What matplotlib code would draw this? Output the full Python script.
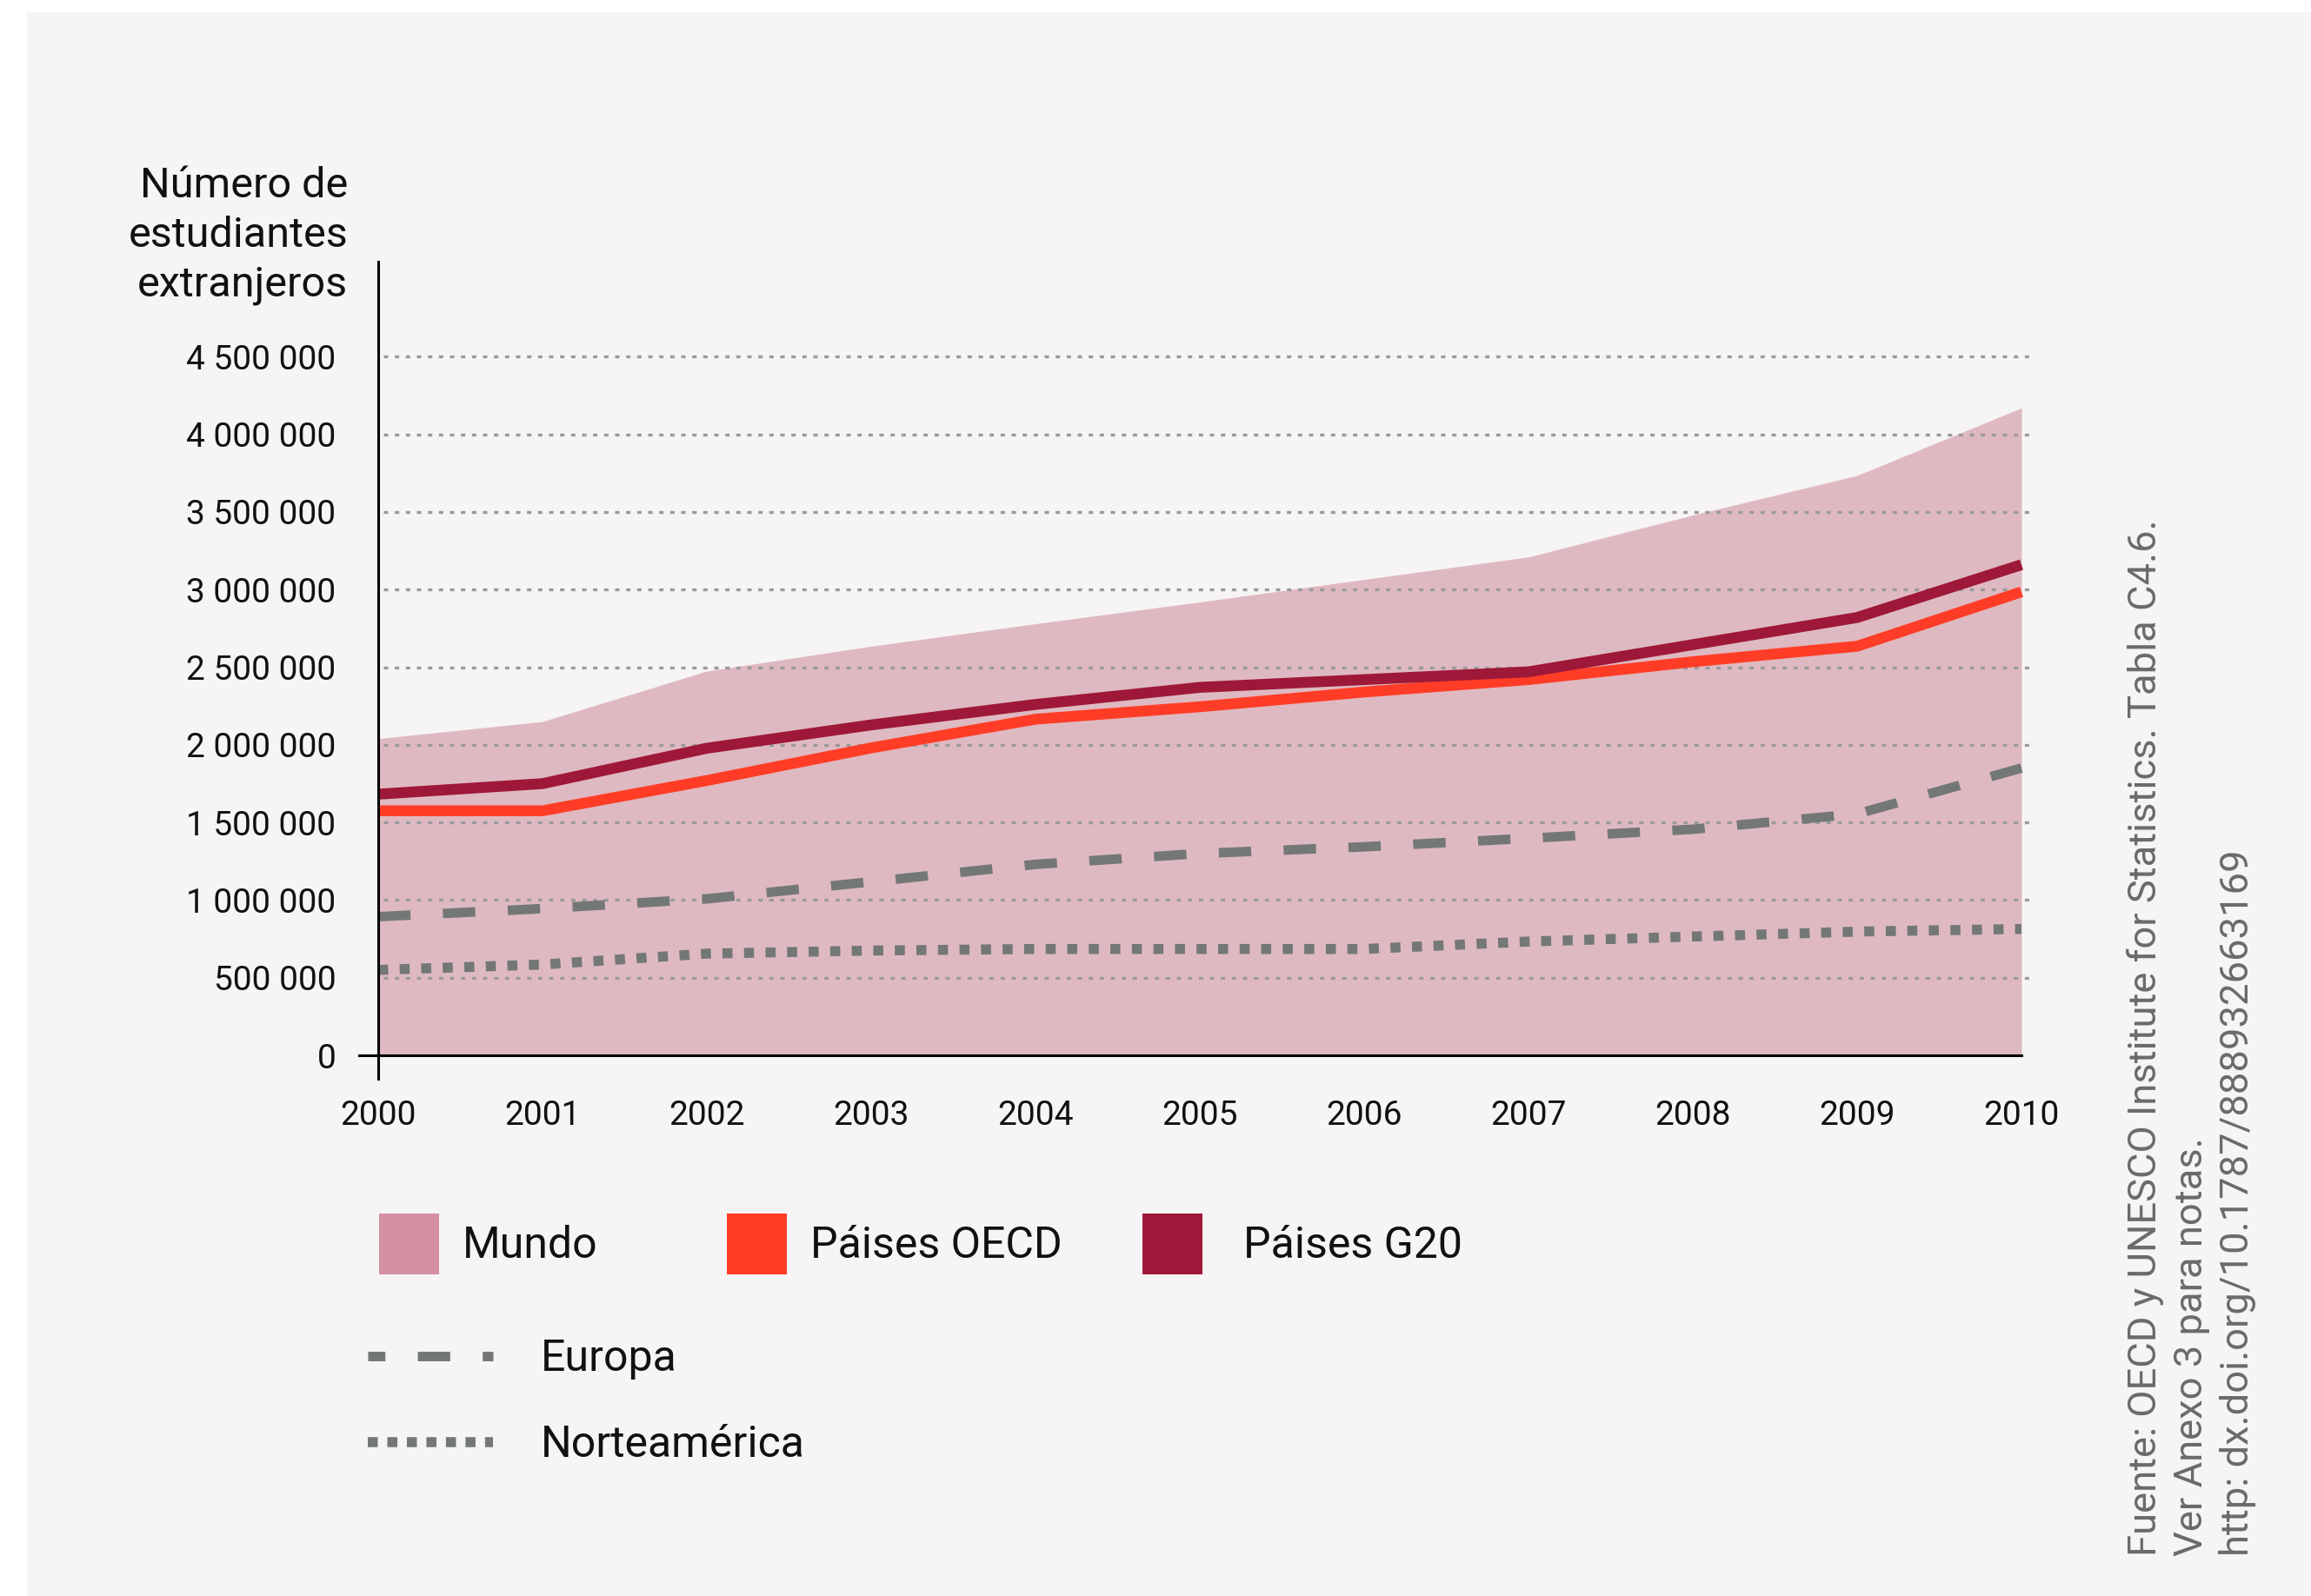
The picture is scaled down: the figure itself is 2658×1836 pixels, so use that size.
import matplotlib
matplotlib.use('Agg')
import matplotlib.pyplot as plt
from matplotlib.patches import Patch, Rectangle
from matplotlib.lines import Line2D

# Datos (número de estudiantes extranjeros)
years = [2000, 2001, 2002, 2003, 2004, 2005, 2006, 2007, 2008, 2009, 2010]
mundo = [2040000, 2150000, 2475000, 2635000, 2780000, 2920000, 3065000, 3210000, 3480000, 3735000, 4170000]
oecd = [1575000, 1575000, 1770000, 1980000, 2165000, 2245000, 2340000, 2420000, 2535000, 2635000, 2985000]
g20 = [1682000, 1750000, 1978000, 2128000, 2260000, 2370000, 2420000, 2470000, 2645000, 2820000, 3160000]
europa = [893000, 945000, 1008000, 1118000, 1230000, 1300000, 1343000, 1398000, 1456000, 1555000, 1850000]
norteamerica = [550000, 585000, 655000, 675000, 685000, 685000, 685000, 733000, 765000, 797000, 814000]

y_ticks = [0, 500000, 1000000, 1500000, 2000000, 2500000, 3000000, 3500000, 4000000, 4500000]
y_title = 'Número de\nestudiantes\nextranjeros'
source = ('Fuente: OECD y UNESCO Institute for Statistics. Tabla C4.6.\n'
          'Ver Anexo 3 para notas.\n'
          'http: dx.doi.org/10.1787/888932663169')

# Colores
BG = '#f6f4f5'
C_MUNDO = '#dfb9c1'
C_MUNDO_KEY = '#d48fa1'
C_OECD = '#ff3d27'
C_G20 = '#9e1839'
C_GRAY = '#737877'
C_GRID = '#9a9a9a'

plt.rcParams['font.family'] = ['Roboto', 'DejaVu Sans']

W, H = 2658, 1836
fig = plt.figure(figsize=(W / 100, H / 100), dpi=100)
fig.patch.set_facecolor('white')
fig.add_artist(Rectangle((31 / W, 0), 1 - 31 / W, 1 - 14 / H, transform=fig.transFigure,
                         facecolor=BG, edgecolor='none', zorder=-10))

ax = fig.add_axes([413 / W, 1 - 1241 / H, (2335 - 413) / W, (1241 - 301) / H])
ax.set_facecolor('none')
ax.set_xlim(1999.884, 2010.053)
ax.set_ylim(-151000, 5112000)

# Área Mundo
ax.fill_between(years, mundo, 0, color=C_MUNDO, lw=0, zorder=1)

# Líneas de la cuadrícula
ax.hlines(y_ticks[1:], 2000.03, 2010.053, colors=C_GRID, lw=2.4,
          linestyles=(0, (1.5, 2.3)), zorder=2)

# Series
ax.plot(years, europa, color=C_GRAY, lw=7.9, linestyle=(0, (3.4, 3.4)),
        dash_capstyle='butt', dash_joinstyle='miter', zorder=3)
ax.plot(years, norteamerica, color=C_GRAY, lw=8.3, linestyle=(0, (1.0, 1.15)),
        dash_capstyle='butt', zorder=3)
ax.plot(years, oecd, color=C_OECD, lw=9, solid_capstyle='butt',
        solid_joinstyle='miter', zorder=4)
ax.plot(years, g20, color=C_G20, lw=9, solid_capstyle='butt',
        solid_joinstyle='miter', zorder=5)

# Ejes
for s in ['top', 'right']:
    ax.spines[s].set_visible(False)
ax.spines['left'].set_position(('data', 2000))
ax.spines['bottom'].set_position(('data', 0))
ax.spines['bottom'].set_bounds(1999.884, 2010)
for s in ['left', 'bottom']:
    ax.spines[s].set_linewidth(2.2)
    ax.spines[s].set_color('black')
    ax.spines[s].set_zorder(6)

ax.set_yticks(y_ticks)
ax.set_yticklabels([f'{v:,}'.replace(',', ' ') for v in y_ticks])
ax.set_xticks(years)
ax.set_xticklabels([str(y) for y in years])
ax.tick_params(axis='y', length=0, pad=35, labelsize=28, labelcolor='#111111')
ax.tick_params(axis='x', length=0, pad=37, labelsize=28, labelcolor='#111111')

fig.text(400 / W, 1 - 271 / H, y_title, ha='right', va='center', multialignment='right',
         fontsize=35, linespacing=1.3, color='#111111')

# Leyenda
def add_key(handle, label, x_px, y_px, hl, hh, pad):
    fig.legend([handle], [label], loc='center left', bbox_to_anchor=(x_px / W, 1 - y_px / H),
               frameon=False, fontsize=36, handlelength=hl, handleheight=hh,
               handletextpad=pad, borderpad=0, borderaxespad=0, labelcolor='#111111')

add_key(Patch(facecolor=C_MUNDO_KEY, edgecolor='none'), 'Mundo', 436, 1431, 1.38, 1.777, 0.54)
add_key(Patch(facecolor=C_OECD, edgecolor='none'), 'Páises OECD', 836, 1431, 1.38, 1.777, 0.54)
add_key(Patch(facecolor=C_G20, edgecolor='none'), 'Páises G20', 1314, 1431, 1.38, 1.777, 0.94)
add_key(Line2D([0], [0], color=C_GRAY, lw=7.9, linestyle=(1.6, (3.4, 3.4)), dash_capstyle='butt'),
        'Europa', 423, 1563, 2.88, 0.7, 1.1)
add_key(Line2D([0], [0], color=C_GRAY, lw=8.3, linestyle=(0, (1.0, 0.95)), dash_capstyle='butt'),
        'Norteamérica', 423, 1662, 2.88, 0.7, 1.1)

# Fuente
fig.text(2446 / W, 1 - 1790 / H, source, rotation=90, ha='left', va='bottom',
         multialignment='left', fontsize=32.7, fontweight='normal', linespacing=1.32,
         color='#6a6a6a')

fig.savefig('out.png', dpi=100, facecolor=fig.get_facecolor())
